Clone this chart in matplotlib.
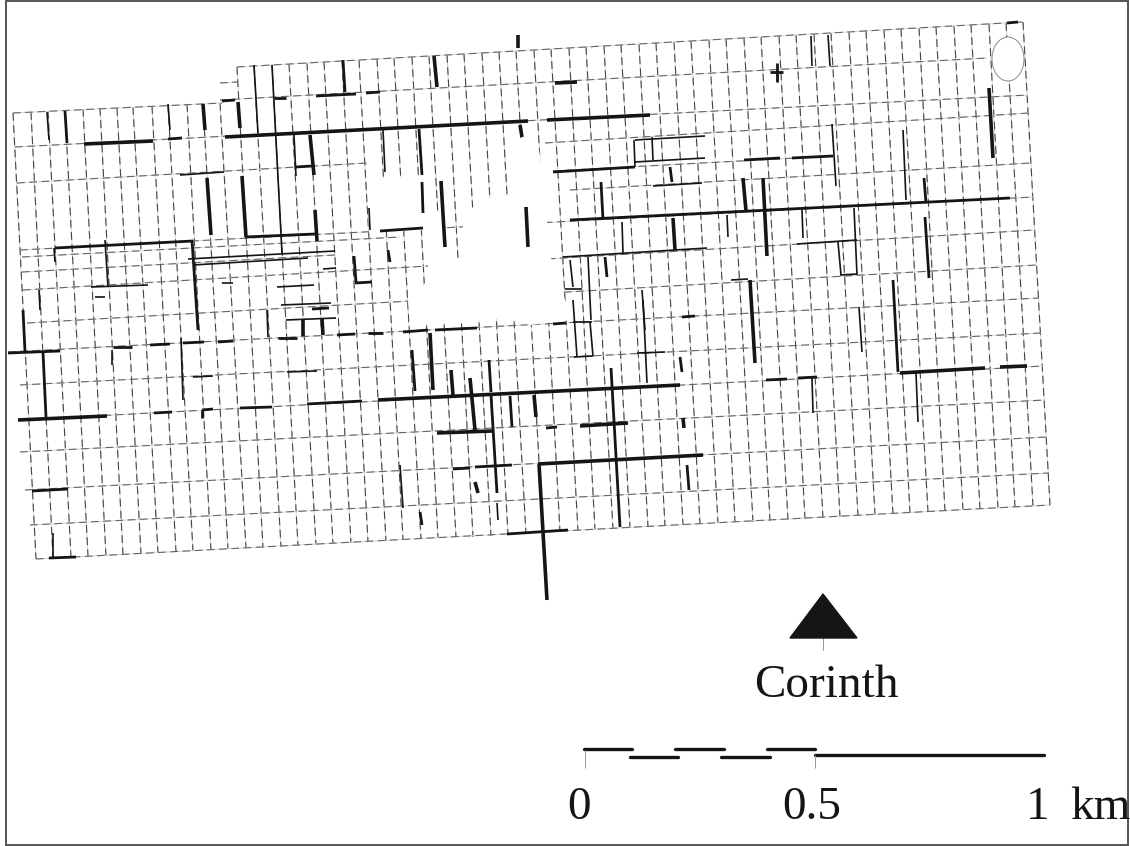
import matplotlib
matplotlib.use("Agg")
import matplotlib.pyplot as plt
from matplotlib.collections import LineCollection
from matplotlib.patches import Ellipse, Polygon, Rectangle

# survey grid in image pixels
ns_top_x = [13, 31, 48, 65, 83, 100, 117, 133, 152, 168, 187, 203, 220,
            237, 254, 272, 289, 307, 324, 342, 359, 377, 394, 412, 429, 447, 464, 482, 499, 516,
            534, 551, 569, 586, 604, 621, 639, 656, 674, 691, 709, 726, 744, 761, 779, 796, 814,
            831, 849, 866, 884, 901, 919, 936, 954, 971, 989, 1006, 1023]
ns_top_y = [113, 112, 111, 110, 109, 108, 108, 107, 106, 105, 104, 104, 103,
            67, 66, 65, 64, 63, 62, 61, 60, 59, 58, 57, 56, 55, 54, 53, 52, 51,
            50, 49, 48, 47, 46, 45, 44, 43, 42, 41, 40, 39, 38, 37, 36, 35, 34,
            33, 32, 31, 30, 29, 28, 27, 26, 25, 24, 23, 22]
ns_bot_x = [36, 53, 71, 88, 106, 123, 141, 158, 176, 193, 211, 228, 246, 263, 281, 298, 316, 333,
            351, 368, 386, 403, 421, 438, 456, 473, 491, 508, 526, 543, 560, 578, 595, 613, 630,
            648, 665, 683, 700, 718, 735, 753, 770, 788, 805, 823, 840, 858, 875, 893, 910, 928,
            945, 963, 980, 998, 1015, 1033, 1050]
ns_bot_y = [559, 558, 557, 556, 556, 555, 554, 553, 552, 551, 550, 549, 548, 548, 547, 546, 545,
            544, 543, 542, 541, 540, 539, 538, 537, 537, 536, 535, 534, 533, 532, 531, 530, 529,
            528, 527, 526, 525, 524, 523, 522, 522, 521, 520, 519, 518, 517, 516, 515, 514, 513,
            512, 511, 510, 509, 508, 507, 506, 505]

ew_lines = [
    (237, 67, 1022, 22), (220, 100, 987, 58), (13, 113, 222, 103), (220, 83, 237, 82),
    (15, 147, 1028, 95), (17, 183, 367, 163), (545, 143, 1030, 113),
    (553, 171, 833, 156), (570, 190, 1031, 163), (20, 250, 1033, 197),
    (22, 257, 400, 237), (22, 272, 335, 255), (23, 290, 1035, 230), (27, 323, 1037, 265),
    (8, 352, 1039, 298), (20, 385, 1041, 333), (18, 420, 1043, 366), (20, 452, 1045, 400),
    (25, 490, 1047, 437), (30, 525, 1049, 473), (36, 559, 1050, 505),
]

# blank patches in the middle of the grid
white_box = [(367, 179), (422, 176), (424, 230), (369, 233)]
white_side = [(423, 213), (441, 212), (445, 262), (425, 263)]
white_blob = [(410, 325), (408, 300), (428, 280), (428, 262), (463, 257), (463, 217), (480, 200),
              (505, 195), (518, 203), (520, 138), (537, 137), (543, 175), (550, 255), (560, 285),
              (572, 320), (530, 325), (500, 318), (470, 322)]

thin_segments = [
    (180, 175, 224, 172), (188, 259, 335, 251), (193, 265, 308, 258), (91, 287, 148, 285),
    (95, 297, 105, 297), (222, 283, 233, 283), (277, 287, 314, 285), (281, 305, 331, 303),
    (286, 320, 336, 318), (323, 269, 336, 268), (193, 377, 213, 376), (287, 372, 317, 371),
    (637, 353, 665, 352), (574, 357, 593, 356), (573, 322, 592, 322), (635, 140, 705, 136),
    (635, 162, 705, 158), (653, 186, 702, 183), (563, 257, 707, 248), (565, 289, 582, 289),
    (797, 244, 857, 240), (840, 275, 857, 274), (731, 280, 748, 279),
    (254, 65, 258, 133), (272, 65, 282, 253), (47, 112, 49, 140), (168, 104, 170, 130),
    (294, 135, 296, 176), (383, 130, 385, 172), (369, 208, 370, 230), (105, 240, 108, 287),
    (54, 248, 55, 262), (39, 290, 40, 310), (573, 300, 577, 357), (590, 322, 593, 356),
    (643, 300, 647, 383), (400, 465, 403, 508), (497, 503, 498, 520), (811, 36, 812, 66),
    (828, 35, 830, 66), (832, 124, 836, 186), (903, 130, 906, 200), (727, 215, 728, 237),
    (802, 210, 803, 238), (854, 208, 857, 275), (838, 242, 841, 275), (634, 140, 635, 167),
    (652, 137, 653, 160), (622, 222, 623, 253), (570, 260, 573, 287), (588, 257, 591, 320),
    (642, 290, 645, 330), (812, 378, 813, 413), (916, 373, 918, 422), (859, 307, 862, 352),
    (181, 338, 183, 400), (112, 350, 112, 365), (267, 310, 268, 337), (53, 533, 53, 558),
]
mid_segments = [
    (168, 139, 182, 138), (222, 101, 235, 100), (274, 98, 286, 98), (316, 96, 356, 94),
    (366, 93, 380, 92), (744, 160, 780, 158), (792, 158, 833, 156),
    (553, 172, 635, 167), (55, 248, 193, 241), (245, 237, 315, 234), (380, 231, 423, 228),
    (570, 220, 1010, 198), (312, 309, 329, 308), (355, 283, 372, 282), (368, 333, 383, 333),
    (403, 332, 428, 330), (435, 330, 477, 328), (553, 324, 566, 323), (682, 317, 695, 316),
    (8, 353, 60, 351), (113, 347, 132, 347), (150, 345, 170, 344), (183, 343, 204, 342),
    (218, 342, 233, 341), (278, 338, 297, 338), (337, 335, 355, 334),
    (154, 413, 172, 412), (202, 410, 213, 409), (240, 408, 272, 407), (307, 404, 362, 401),
    (766, 380, 787, 379), (798, 378, 817, 377), (546, 428, 557, 427),
    (453, 469, 470, 468), (475, 467, 512, 465), (507, 534, 568, 530), (49, 558, 76, 557),
    (32, 491, 68, 489), (770, 72, 783, 72), (777, 63, 777, 82), (1007, 23, 1018, 22),
    (296, 167, 312, 166), (65, 111, 67, 143), (343, 60, 345, 92), (192, 240, 198, 330),
    (23, 310, 25, 352), (43, 352, 46, 417), (354, 256, 356, 282), (388, 250, 390, 262),
    (412, 350, 415, 391), (510, 396, 512, 427), (489, 360, 491, 392), (491, 395, 497, 493),
    (611, 368, 620, 527), (420, 512, 422, 525), (893, 280, 898, 372), (419, 129, 422, 175),
    (422, 182, 423, 213), (601, 182, 603, 220), (670, 167, 672, 182), (605, 257, 607, 277),
    (687, 465, 689, 490), (680, 357, 682, 372), (924, 178, 926, 203), (925, 217, 929, 278),
    (202, 410, 202, 418),
]
heavy_segments = [
    (84, 144, 153, 141), (225, 137, 528, 121), (547, 120, 650, 115), (18, 420, 107, 416),
    (378, 400, 680, 385), (900, 373, 985, 368), (1000, 367, 1027, 366), (437, 433, 492, 431),
    (580, 426, 628, 423), (538, 464, 703, 455), (518, 35, 518, 48), (555, 83, 577, 82),
    (203, 104, 205, 130), (238, 102, 240, 128), (310, 135, 314, 175), (207, 178, 211, 235),
    (242, 176, 246, 237), (315, 210, 317, 241), (303, 320, 303, 336), (322, 318, 323, 335),
    (430, 333, 433, 390), (451, 370, 453, 395), (470, 378, 475, 430), (534, 395, 536, 417),
    (750, 280, 755, 363), (475, 482, 478, 493), (539, 464, 547, 600), (989, 88, 993, 158),
    (743, 178, 746, 211), (763, 178, 767, 256), (683, 418, 684, 428), (434, 56, 437, 87),
    (520, 125, 522, 137), (441, 181, 445, 247), (526, 207, 528, 247), (673, 218, 675, 250),
]

# site marker and scale bar
corinth_x = [790, 823, 857]
corinth_y = [638, 594, 638]
scale_segments = [(584, 749, 632, 749), (630, 757, 678, 757), (675, 749, 724, 749),
                  (721, 757, 770, 757), (767, 749, 815, 749), (815, 755, 1044, 755)]
scale_ticks = [(585, 750, 585, 768), (815, 755, 815, 768)]
scale_labels = ["0", "0.5", "1", "km"]
scale_label_x = [579, 812, 1038, 1100]


def to_lines(segs):
    return [[(s[0], s[1]), (s[2], s[3])] for s in segs]


def main():
    plt.rcParams['font.family'] = ['Liberation Serif', 'DejaVu Serif']
    fig = plt.figure(figsize=(11.30, 8.46), dpi=100)
    ax = fig.add_axes([0, 0, 1, 1])
    ax.set_xlim(0, 1130)
    ax.set_ylim(846, 0)
    ax.axis('off')

    ax.add_patch(Rectangle((5.5, 1), 1122, 844, fill=False, ec='#555555', lw=1.4))

    # grid first, dashed like the scanned original
    ns_lines = [[(a, b), (c, d)] for a, b, c, d in zip(ns_top_x, ns_top_y, ns_bot_x, ns_bot_y)]
    for lines, dark in ((ns_lines, '#454545'), (to_lines(ew_lines), '#666666')):
        ax.add_collection(LineCollection(lines, colors='#d4d4d4', linewidths=0.7))
        ax.add_collection(LineCollection(lines, colors=dark, linewidths=0.8,
                                         linestyles=[(0, (7, 4))]))

    for patch in (white_box, white_side, white_blob):
        ax.add_patch(Polygon(patch, fc='white', ec='none', zorder=3))
    ax.add_patch(Ellipse((1008, 59), 32, 44, fc='white', ec='#888888', lw=0.7, zorder=3))

    ax.add_collection(LineCollection(to_lines(thin_segments), colors='#151515', linewidths=1.2, zorder=4))
    ax.add_collection(LineCollection(to_lines(mid_segments), colors='#151515', linewidths=2.0, zorder=4))
    ax.add_collection(LineCollection(to_lines(heavy_segments), colors='#151515', linewidths=2.6, zorder=4))

    ax.fill(corinth_x, corinth_y, color='#151515', zorder=4)
    ax.plot([corinth_x[1], corinth_x[1]], [corinth_y[0], 650], color='#999999', lw=0.7)
    ax.text(826, 686, "Corinth", fontsize=34, ha='center', va='center', color='#151515')

    ax.add_collection(LineCollection(to_lines(scale_segments), colors='#151515', linewidths=2.4, capstyle='round'))
    ax.add_collection(LineCollection(to_lines(scale_ticks), colors='#999999', linewidths=0.7))
    for lab, x in zip(scale_labels, scale_label_x):
        ax.text(x, 808, lab, fontsize=34, ha='center', va='center', color='#151515')

    fig.savefig("out.png", dpi=100)


if __name__ == "__main__":
    main()
